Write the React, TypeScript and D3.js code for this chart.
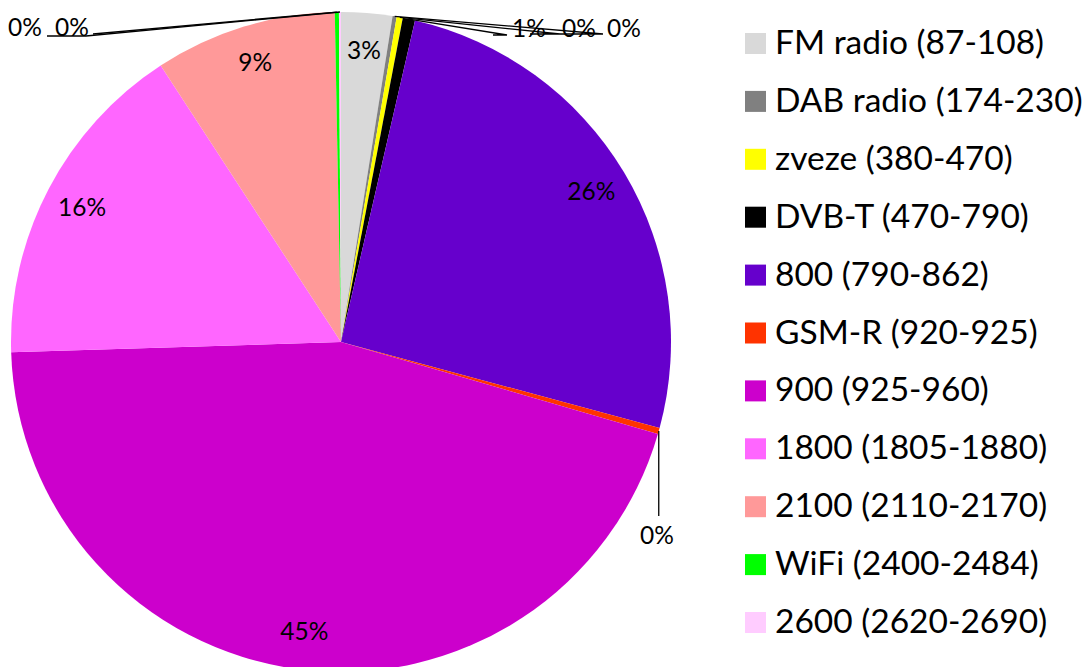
import React from "react";
import * as d3 from "d3";

const categories = [
  "FM radio (87-108)",
  "DAB radio (174-230)",
  "zveze (380-470)",
  "DVB-T (470-790)",
  "800 (790-862)",
  "GSM-R (920-925)",
  "900 (925-960)",
  "1800 (1805-1880)",
  "2100 (2110-2170)",
  "WiFi (2400-2484)",
  "2600 (2620-2690)",
];
const values = [2.5, 0.2, 0.3, 0.6, 25.6, 0.3, 45.0, 16.3, 8.9, 0.2, 0.1];
const colors = [
  "#d9d9d9",
  "#808080",
  "#ffff00",
  "#000000",
  "#6600cc",
  "#ff3300",
  "#cc00cc",
  "#ff66ff",
  "#ff9999",
  "#00ff00",
  "#ffccff",
];

const W = 1084;
const H = 667;
const cx = 341;
const cy = 342;
const R = 330;
const labelR = 292;
const FONT = "Lato, 'Open Sans', sans-serif";
const LABEL_SIZE = 24.5;
const LEGEND_SIZE = 33.5;
const fmt = d3.format(".0%");

// outside-label layout for the thin slices
const outside: Record<number, { tx: number; ty: number; anchor: string; pts: [number, number][] }> = {
  1: { tx: 607, ty: 37, anchor: "start", pts: [[603, 34], [560, 34]] },
  2: { tx: 562, ty: 37, anchor: "start", pts: [[560, 34], [530, 34]] },
  3: { tx: 512, ty: 37, anchor: "start", pts: [[507, 35], [493, 35]] },
  5: { tx: 657, ty: 544, anchor: "middle", pts: [[0, 516]] },
  9: { tx: 55, ty: 36, anchor: "start", pts: [[93, 34]] },
  10: { tx: 8, ty: 36, anchor: "start", pts: [[86, 36], [47, 36]] },
};

export default function App() {
  const total = d3.sum(values);
  const pie = d3
    .pie<number>()
    .sort(null)
    .value((d) => d);
  const arcs = pie(values);
  const arc = d3.arc<d3.PieArcDatum<number>>().innerRadius(0).outerRadius(R);
  const labelArc = d3
    .arc<d3.PieArcDatum<number>>()
    .innerRadius(labelR)
    .outerRadius(labelR);

  const legendY = d3
    .scaleBand<number>()
    .domain(d3.range(categories.length))
    .range([33, 33 + 11 * 57.9]);

  return (
    <div style={{ position: "absolute", left: 0, top: 0 }}>
      <svg width={W} height={H} style={{ display: "block" }}>
        <rect width={W} height={H} fill="#fff" />
        <g transform={`translate(${cx},${cy})`}>
          {arcs.map((a, i) => (
            <path key={i} d={arc(a) || ""} fill={colors[i]} />
          ))}
        </g>
        {arcs.map((a, i) => {
          if (outside[i]) return null;
          const [x, y] = labelArc.centroid(a);
          return (
            <text
              key={"l" + i}
              x={cx + x}
              y={cy + y}
              dy="0.35em"
              textAnchor="middle"
              fontFamily={FONT}
              fontSize={LABEL_SIZE}
              fill="#000"
            >
              {fmt(values[i] / total)}
            </text>
          );
        })}
        {arcs.map((a, i) => {
          const o = outside[i];
          if (!o) return null;
          const mid = (a.startAngle + a.endAngle) / 2;
          const ax = cx + R * Math.sin(mid);
          const ay = cy - R * Math.cos(mid);
          const pts: [number, number][] = [[ax, ay]];
          o.pts.forEach(([px, py]) => pts.push([px === 0 ? ax : px, py]));
          const line = d3.line()(pts) || "";
          return (
            <g key={"o" + i}>
              <path d={line} fill="none" stroke="#000" strokeWidth={1.3} />
              <text
                x={o.tx}
                y={o.ty}
                textAnchor={o.anchor as any}
                fontFamily={FONT}
                fontSize={LABEL_SIZE}
                fill="#000"
              >
                {fmt(values[i] / total)}
              </text>
            </g>
          );
        })}
        {categories.map((c, i) => {
          const y = legendY(i)!;
          return (
            <g key={"lg" + i}>
              <rect x={745} y={y} width={21} height={21} fill={colors[i]} />
              <text
                x={775}
                y={y + 21}
                fontFamily={FONT}
                fontSize={LEGEND_SIZE}
                fill="#000"
              >
                {c}
              </text>
            </g>
          );
        })}
      </svg>
    </div>
  );
}
